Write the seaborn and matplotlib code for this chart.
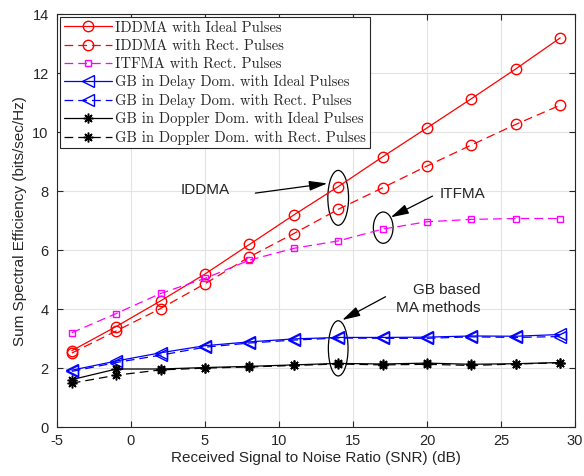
import numpy as np
import pandas as pd
import matplotlib
matplotlib.use("Agg")
import matplotlib.pyplot as plt
import seaborn as sns
from matplotlib.patches import Ellipse

sns.set_style("ticks")
plt.rcParams["font.family"] = ["Liberation Sans", "DejaVu Sans"]
plt.rcParams["axes.unicode_minus"] = False

# ---- data ----
snr = [-4, -1, 2, 5, 8, 11, 14, 17, 20, 23, 26, 29]
iddma_ideal = [2.6, 3.42, 4.29, 5.2, 6.2, 7.2, 8.16, 9.17, 10.15, 11.14, 12.15, 13.2]
iddma_rect = [2.52, 3.27, 4.03, 4.87, 5.78, 6.57, 7.39, 8.12, 8.86, 9.57, 10.27, 10.92]
itfma_rect = [3.21, 3.86, 4.54, 5.05, 5.67, 6.07, 6.32, 6.72, 6.97, 7.05, 7.08, 7.08]
gb_delay_ideal = [1.94, 2.25, 2.53, 2.77, 2.9, 3.0, 3.05, 3.05, 3.06, 3.1, 3.09, 3.15]
gb_delay_rect = [1.9, 2.2, 2.45, 2.72, 2.86, 2.96, 3.03, 3.02, 3.02, 3.07, 3.05, 3.08]
gb_dop_ideal = [1.62, 1.98, 1.98, 2.03, 2.07, 2.12, 2.17, 2.15, 2.18, 2.14, 2.16, 2.2]
gb_dop_rect = [1.5, 1.77, 1.95, 2.01, 2.05, 2.1, 2.15, 2.12, 2.14, 2.1, 2.15, 2.19]

labels = [
    "IDDMA with Ideal Pulses",
    "IDDMA with Rect. Pulses",
    "ITFMA with Rect. Pulses",
    "GB in Delay Dom. with Ideal Pulses",
    "GB in Delay Dom. with Rect. Pulses",
    "GB in Doppler Dom. with Ideal Pulses",
    "GB in Doppler Dom. with Rect. Pulses",
]
series = [iddma_ideal, iddma_rect, itfma_rect, gb_delay_ideal,
          gb_delay_rect, gb_dop_ideal, gb_dop_rect]

dash = (0, (7, 4))
asterisk = (8, 2, 0)
styles = [
    dict(color="#FF0000", marker="o", ms=7.5, ls="-"),
    dict(color="#FF0000", marker="o", ms=7.5, ls=dash),
    dict(color="#FF00FF", marker="s", ms=5, ls=dash),
    dict(color="#0000FF", marker="<", ms=8, ls="-"),
    dict(color="#0000FF", marker="<", ms=8, ls=dash),
    dict(color="black", marker=asterisk, ms=7, ls="-"),
    dict(color="black", marker=asterisk, ms=7, ls=dash),
]

fig = plt.figure(figsize=(5.84, 4.76), dpi=100)
ax = fig.add_axes([0.0976, 0.102, 0.887, 0.868])

for y, lab, st in zip(series, labels, styles):
    filled = st["marker"] == asterisk
    sns.lineplot(x=snr, y=y, ax=ax, label=lab, color=st["color"],
                 linestyle=st["ls"], linewidth=0.9, marker=st["marker"],
                 markersize=st["ms"],
                 markerfacecolor=st["color"] if filled else "none",
                 markeredgecolor=st["color"], markeredgewidth=1.0 if not filled else 1.1)

ax.set_xlim(-5, 30)
ax.set_ylim(0, 14)
ax.set_xticks(np.arange(-5, 31, 5))
ax.set_yticks(np.arange(0, 15, 2))
ax.grid(True, color="#e3e3e3", linewidth=0.8)
ax.tick_params(direction="in", top=True, right=True, labelsize=10.5,
               length=4, width=0.8, color="#262626")
ax.tick_params(axis="x", pad=5)
ax.tick_params(axis="y", pad=6)
for sp in ax.spines.values():
    sp.set_color("#262626")
    sp.set_linewidth(0.8)
ax.set_xlabel("Received Signal to Noise Ratio (SNR) (dB)", fontsize=11, labelpad=2)
ax.set_ylabel("Sum Spectral Efficiency (bits/sec/Hz)", fontsize=11, labelpad=4)

# ellipses + annotations
for (cx, cy, w, h) in [(14.0, 7.78, 1.4, 1.86), (17.04, 6.77, 1.33, 1.06),
                       (14.0, 2.68, 1.33, 1.87)]:
    ax.add_patch(Ellipse((cx, cy), w, h, fill=False, edgecolor="black", lw=0.9))

arrow = dict(arrowstyle="-|>,head_length=1.1,head_width=0.3", color="black",
             lw=0.9, shrinkA=0, shrinkB=0)
ax.annotate("", xy=(13.26, 8.27), xytext=(8.4, 7.94), arrowprops=arrow)
ax.text(5.0, 8.04, "IDDMA", ha="center", va="center", fontsize=11)
ax.annotate("", xy=(17.55, 7.12), xytext=(20.37, 7.84), arrowprops=arrow)
ax.text(22.4, 7.9, "ITFMA", ha="center", va="center", fontsize=11)
ax.annotate("", xy=(14.27, 3.64), xytext=(17.2, 4.43), arrowprops=arrow)
ax.text(23.64, 4.35, "GB based\nMA methods", ha="right", va="center",
        multialignment="right", fontsize=11, linespacing=1.3)

leg = ax.legend(loc="upper left", prop=dict(family="cmr10", size=10.5),
                frameon=True, fancybox=False, edgecolor="#262626",
                framealpha=1, borderaxespad=0.2, handlelength=3.3,
                labelspacing=0.3, handletextpad=0.25, borderpad=0.25)
leg.get_frame().set_linewidth(0.8)

fig.savefig("out.png", dpi=100)
